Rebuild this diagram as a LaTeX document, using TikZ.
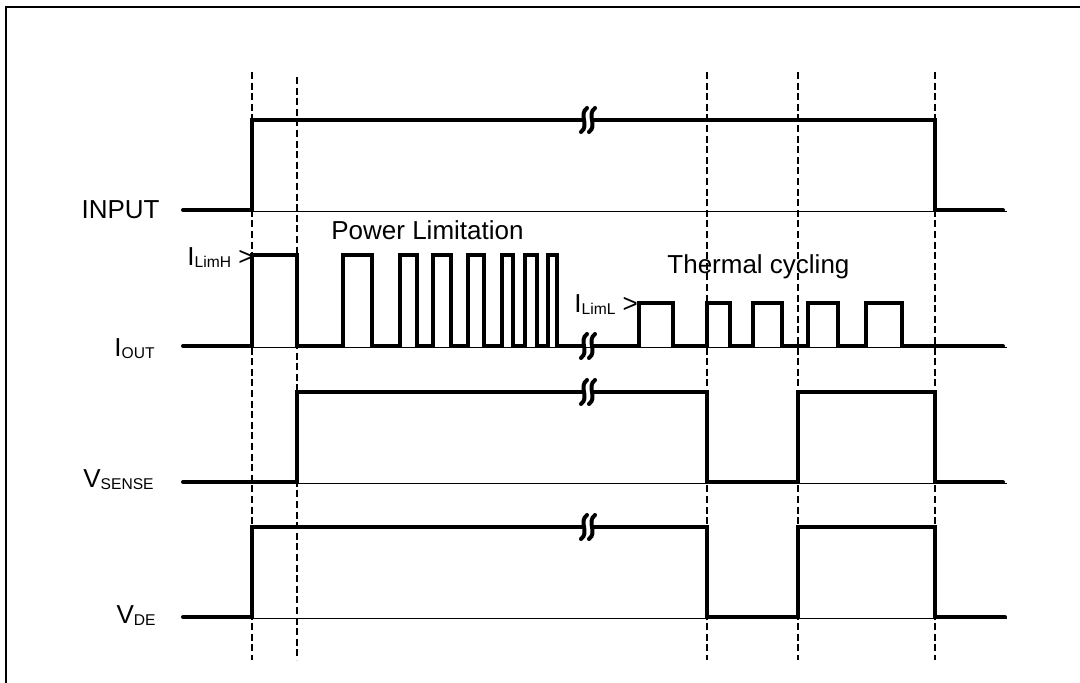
\documentclass[tikz,border=0pt]{standalone}
\usepackage{fontspec}
\setmainfont{Liberation Sans}

\newcommand{\subtext}[1]{\raisebox{-1.2pt}{\fontsize{7.8}{8}\selectfont #1}}
\newcommand{\wavebreak}[2]{%
  \begin{scope}[shift={(#1,#2)}]
    \draw[signal] (-1,-12) .. controls (-10,-5) and (2,5) .. (-7,12);
    \draw[signal] (7,-12) .. controls (-2,-5) and (10,5) .. (1,12);
  \end{scope}}

\begin{document}
\begin{tikzpicture}[x=0.5pt, y=-0.5pt,
    signal/.style={line width=2pt, line cap=round},
    baseline/.style={line width=0.5pt},
    guide/.style={line width=0.9pt, dash pattern=on 3.5pt off 1.8pt},
    label/.style={inner sep=0pt, font=\fontsize{13}{15}\selectfont}]
                \useasboundingbox (0,0) rectangle (1080,682);
                \draw[line width=1.2pt] (6,700) -- (6,7) -- (1100,7);

                % time markers
                \foreach \x/\t in {252/72, 297/77, 707/72, 798/72, 935/72}
                    \draw[guide] (\x,\t) -- (\x,660);

                % zero lines
                \foreach \y in {210, 346, 482, 617}
                    \draw[baseline] (185,\y+1) -- (1007,\y+1);

                % INPUT
                \draw[signal] (183,210) -- (252,210) -- (252,120) -- (584,120);
                \draw[signal] (592,120) -- (935,120) -- (935,210) -- (1003,210);
                \wavebreak{588}{120}

                % IOUT
                \draw[signal] (183,346)
                    \foreach \a/\b in {252/297, 342.7/371.7, 400/416.7, 433/450.7, 467.7/484, 502/513, 525/536.7, 547.7/556.7}
                    { -- (\a,346) -- (\a,255) -- (\b,255) -- (\b,346) } -- (584,346);
                \draw[signal] (592,346)
                    \foreach \a/\b in {639/673, 707/730, 752.7/781.7, 808/838, 866/901.7}
                    { -- (\a,346) -- (\a,303) -- (\b,303) -- (\b,346) } -- (1003,346);
                \wavebreak{588}{346}

                % VSENSE
                \draw[signal] (183,482) -- (297,482) -- (297,392) -- (584,392);
                \draw[signal] (592,392) -- (707,392) -- (707,482) -- (798,482) -- (798,392) -- (935,392) -- (935,482) -- (1003,482);
                \wavebreak{588}{392}

                % VDE
                \draw[signal] (183,617) -- (252,617) -- (252,527) -- (584,527);
                \draw[signal] (592,527) -- (707,527) -- (707,617) -- (798,617) -- (798,527) -- (935,527) -- (935,617) -- (1005,617);
                \wavebreak{588}{527}

                % labels
                \node[label, anchor=base east] (input) at (160,218) {INPUT};
                \node[label, anchor=base east] (iout) at (155,356) {I\subtext{OUT}};
                \node[label, anchor=base east] (vsense) at (154,487) {V\subtext{SENSE}};
                \node[label, anchor=base east] (vde) at (156,623) {V\subtext{DE}};
                \node[label, anchor=base west] (ilimh) at (187,265) {I\subtext{LimH} >};
                \node[label, anchor=base west] (iliml) at (574,312) {I\subtext{LimL} >};
                \node[label, anchor=base west] (powerlim) at (331,239) {Power Limitation};
                \node[label, anchor=base west] (thermal) at (667,273) {Thermal cycling};
            \end{tikzpicture}
\end{document}
